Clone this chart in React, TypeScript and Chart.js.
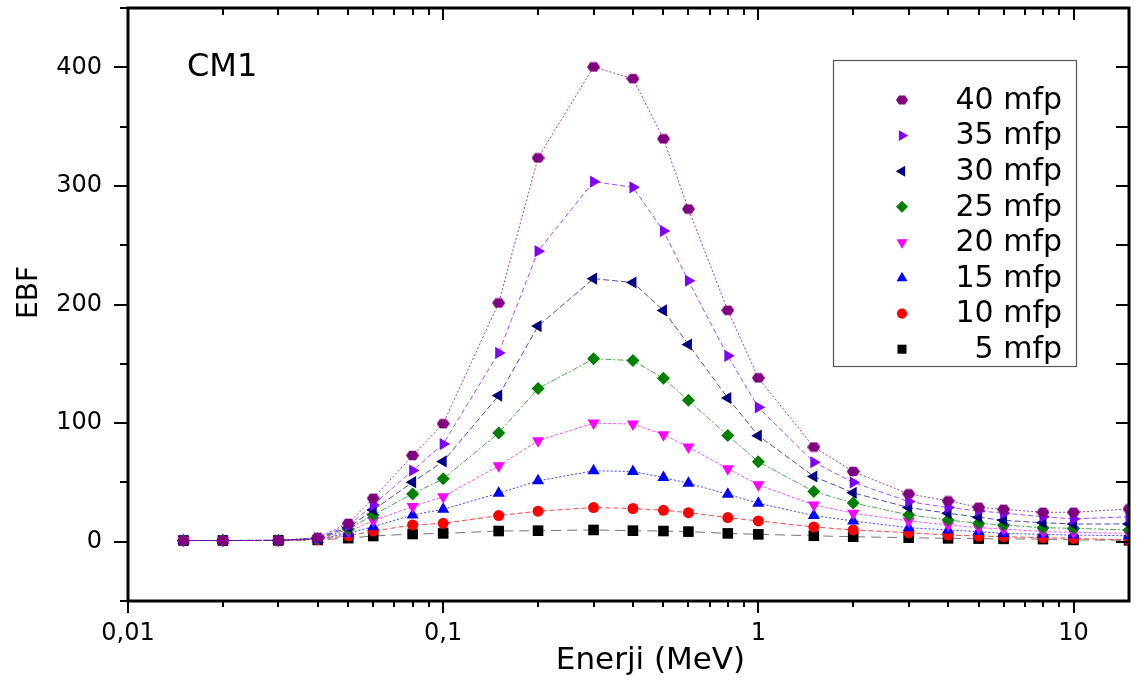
import React, { useEffect, useRef } from 'react';
import { Chart, registerables } from 'chart.js';

Chart.register(...registerables);

// ---------- data ----------
const energies = [0.015, 0.02, 0.03, 0.04, 0.05, 0.06, 0.08, 0.1, 0.15, 0.2, 0.3, 0.4, 0.5, 0.6, 0.8, 1, 1.5, 2, 3, 4, 5, 6, 8, 10, 15];

const mfp40 = [1.0, 1.0, 1.1, 3.4, 15.5, 36.6, 72.7, 99.5, 201.3, 323.6, 400.3, 390.4, 339.7, 280.5, 195.1, 138.1, 79.8, 59.2, 40.3, 34.4, 29.0, 27.3, 24.8, 24.8, 27.6];
const mfp35 = [1.0, 1.0, 1.1, 3.0, 13.5, 31.0, 60.0, 82.3, 159.2, 245.0, 303.6, 298.8, 262.0, 220.0, 156.7, 113.3, 67.0, 50.0, 33.8, 28.8, 26.0, 24.0, 21.1, 19.2, 21.0];
const mfp30 = [1.0, 1.0, 1.1, 2.8, 12.0, 26.8, 50.2, 67.7, 123.2, 181.8, 221.8, 218.5, 195.0, 166.3, 121.2, 89.4, 55.0, 41.2, 28.8, 24.0, 20.6, 18.0, 16.0, 14.9, 15.0];
const mfp25 = [1.0, 1.0, 1.1, 2.5, 10.4, 22.6, 40.3, 53.0, 91.6, 129.1, 154.2, 152.8, 137.8, 119.2, 89.6, 67.4, 42.3, 32.7, 22.6, 18.3, 15.5, 14.1, 11.8, 11.3, 9.9];
const mfp20 = [1.0, 1.0, 1.1, 2.3, 8.5, 17.8, 29.6, 38.0, 64.0, 85.2, 100.0, 99.2, 90.2, 79.8, 61.5, 48.0, 31.0, 24.0, 17.5, 14.1, 11.8, 10.7, 8.5, 7.9, 7.0];
const mfp15 = [1.0, 1.0, 1.1, 2.0, 7.0, 12.7, 22.6, 27.3, 40.9, 51.3, 59.8, 59.2, 54.1, 49.3, 40.0, 32.4, 22.0, 17.5, 11.8, 9.9, 8.5, 7.0, 6.2, 5.6, 5.0];
const mfp10 = [1.0, 1.0, 1.1, 1.8, 5.0, 9.0, 14.1, 15.5, 22.0, 25.7, 28.8, 28.0, 26.5, 24.5, 20.3, 17.5, 12.4, 9.9, 7.6, 5.6, 4.8, 4.2, 3.4, 2.8, 1.4];
const mfp5 = [1.0, 1.0, 1.1, 1.5, 3.0, 4.8, 6.5, 7.0, 9.0, 9.3, 9.9, 9.3, 9.0, 8.5, 7.0, 6.2, 5.0, 4.2, 3.4, 2.8, 2.6, 2.4, 2.2, 1.5, 1.2];

const seriesLabels = ['40 mfp', '35 mfp', '30 mfp', '25 mfp', '20 mfp', '15 mfp', '10 mfp', '5 mfp'];
const seriesValues = [mfp40, mfp35, mfp30, mfp25, mfp20, mfp15, mfp10, mfp5];

const xMin = 0.01;
const xMax = 15;
const yMin = -50;
const yMax = 450;
const yStep = 50;

const xTitle = 'Enerji (MeV)';
const yTitle = 'EBF';
const panelLabel = 'CM1';

// ---------- styles ----------
type Marker = 'hex' | 'triRight' | 'triLeft' | 'diamond' | 'triDown' | 'triUp' | 'circle' | 'square';
const styles: { color: string; line: string; marker: Marker; dash: number[] }[] = [
  { color: '#800080', line: 'rgba(128,0,128,0.75)', marker: 'hex', dash: [2, 2] },
  { color: '#8000ff', line: 'rgba(128,0,255,0.7)', marker: 'triRight', dash: [5, 3] },
  { color: '#000080', line: 'rgba(0,0,128,0.7)', marker: 'triLeft', dash: [6, 3] },
  { color: '#008000', line: 'rgba(0,128,0,0.7)', marker: 'diamond', dash: [6, 2, 2, 2] },
  { color: '#ff00ff', line: 'rgba(255,0,255,0.7)', marker: 'triDown', dash: [3, 2] },
  { color: '#0000ff', line: 'rgba(0,0,255,0.75)', marker: 'triUp', dash: [2, 2] },
  { color: '#ff0000', line: 'rgba(255,0,0,0.75)', marker: 'circle', dash: [5, 3] },
  { color: '#000000', line: 'rgba(0,0,0,0.55)', marker: 'square', dash: [10, 6] },
];

const FONT = "'DejaVu Sans', 'Liberation Sans', Arial, sans-serif";

function makeHex(w: number, h: number, color: string): HTMLCanvasElement {
  const c = document.createElement('canvas');
  c.width = w;
  c.height = h;
  const g = c.getContext('2d')!;
  g.fillStyle = color;
  g.beginPath();
  const cx = w / 2, cy = h / 2, rx = w / 2, ry = h / 2;
  for (let i = 0; i < 6; i++) {
    const a = (Math.PI / 3) * i;
    const px = cx + rx * Math.cos(a);
    const py = cy + ry * Math.sin(a);
    if (i === 0) g.moveTo(px, py);
    else g.lineTo(px, py);
  }
  g.closePath();
  g.fill();
  return c;
}

function pointProps(m: Marker, color: string) {
  switch (m) {
    case 'hex':
      return { pointStyle: makeHex(13, 11, color) as any, pointRadius: 6.5, pointRotation: 0 };
    case 'triRight':
      return { pointStyle: 'triangle', pointRadius: 7, pointRotation: 90 };
    case 'triLeft':
      return { pointStyle: 'triangle', pointRadius: 7, pointRotation: -90 };
    case 'diamond':
      return { pointStyle: 'rectRot', pointRadius: 6.5, pointRotation: 0 };
    case 'triDown':
      return { pointStyle: 'triangle', pointRadius: 7, pointRotation: 180 };
    case 'triUp':
      return { pointStyle: 'triangle', pointRadius: 7, pointRotation: 0 };
    case 'circle':
      return { pointStyle: 'circle', pointRadius: 5.5, pointRotation: 0 };
    default:
      return { pointStyle: 'rect', pointRadius: 7.5, pointRotation: 0 };
  }
}

function drawMarker(ctx: CanvasRenderingContext2D, m: Marker, x: number, y: number, s: number, color: string) {
  ctx.save();
  ctx.fillStyle = color;
  ctx.beginPath();
  const tri = (rotDeg: number, r: number) => {
    let rad = (rotDeg * Math.PI) / 180;
    for (let i = 0; i < 3; i++) {
      const px = x + Math.sin(rad) * r;
      const py = y - Math.cos(rad) * r;
      if (i === 0) ctx.moveTo(px, py);
      else ctx.lineTo(px, py);
      rad += (2 * Math.PI) / 3;
    }
    ctx.closePath();
  };
  switch (m) {
    case 'hex': {
      const rx = s * 1.0, ry = s * 0.85;
      for (let i = 0; i < 6; i++) {
        const a = (Math.PI / 3) * i;
        const px = x + rx * Math.cos(a), py = y + ry * Math.sin(a);
        if (i === 0) ctx.moveTo(px, py);
        else ctx.lineTo(px, py);
      }
      ctx.closePath();
      break;
    }
    case 'triRight': tri(90, s * 1.05); break;
    case 'triLeft': tri(-90, s * 1.05); break;
    case 'triDown': tri(180, s * 1.05); break;
    case 'triUp': tri(0, s * 1.05); break;
    case 'diamond':
      ctx.moveTo(x, y - s);
      ctx.lineTo(x + s, y);
      ctx.lineTo(x, y + s);
      ctx.lineTo(x - s, y);
      ctx.closePath();
      break;
    case 'circle':
      ctx.arc(x, y, s * 0.85, 0, Math.PI * 2);
      break;
    default:
      ctx.rect(x - s * 0.75, y - s * 0.75, s * 1.5, s * 1.5);
  }
  ctx.fill();
  ctx.restore();
}

function fmtTick(v: number): string {
  if (v >= 1) return String(Math.round(v));
  const d = Math.round(-Math.log10(v));
  return v.toFixed(d).replace('.', ',');
}

const framePlugin = {
  id: 'framePlugin',
  afterDraw(chart: any) {
    const ctx: CanvasRenderingContext2D = chart.ctx;
    const { left, right, top, bottom } = chart.chartArea;
    const xs = chart.scales.x;
    const ys = chart.scales.y;
    ctx.save();
    ctx.strokeStyle = '#000';
    // ticks on x
    ctx.lineWidth = 2;
    ctx.beginPath();
    for (let e = -2; e <= 1; e++) {
      for (let m = 1; m <= 9; m++) {
        const v = m * Math.pow(10, e);
        if (v > xMax + 1e-9) break;
        const px = Math.round(xs.getPixelForValue(v));
        const major = m === 1;
        ctx.moveTo(px, bottom);
        ctx.lineTo(px, bottom + (major ? 12 : 6));
        ctx.moveTo(px, top);
        ctx.lineTo(px, top + (major ? 12 : 7));
      }
    }
    for (let v = yMin; v <= yMax; v += yStep) {
      const py = Math.round(ys.getPixelForValue(v));
      const major = v % 100 === 0;
      ctx.moveTo(left, py);
      ctx.lineTo(left - (major ? 14 : 8), py);
      ctx.moveTo(right, py);
      ctx.lineTo(right - 13, py);
    }
    ctx.stroke();
    // frame
    ctx.lineWidth = 3;
    ctx.strokeRect(left, top, right - left, bottom - top);

    // panel label
    ctx.fillStyle = '#000';
    ctx.font = `32px ${FONT}`;
    ctx.textAlign = 'left';
    ctx.textBaseline = 'middle';
    ctx.fillText(panelLabel, left + 59, top + 60);

    // axis titles
    ctx.font = `31px ${FONT}`;
    ctx.textAlign = 'center';
    ctx.textBaseline = 'middle';
    ctx.fillText(xTitle, (left + right) / 2 + 22, chart.height - 20);
    ctx.save();
    ctx.translate(30, (top + bottom) / 2 - 12);
    ctx.rotate(-Math.PI / 2);
    ctx.font = `28px ${FONT}`;
    ctx.fillText(yTitle, 0, 0);
    ctx.restore();

    // legend
    const lx = right - 296;
    const ly = top + 52;
    const lw = 243;
    const lh = 306;
    ctx.fillStyle = '#fff';
    ctx.fillRect(lx, ly, lw, lh);
    ctx.strokeStyle = '#555';
    ctx.lineWidth = 1.2;
    ctx.strokeRect(lx + 0.5, ly + 0.5, lw, lh);
    ctx.font = `30px ${FONT}`;
    ctx.textAlign = 'right';
    ctx.textBaseline = 'middle';
    seriesLabels.forEach((lab, i) => {
      const cy = ly + 40 + i * 35.6;
      drawMarker(ctx, styles[i].marker, lx + 69, cy, 6, styles[i].color);
      ctx.fillStyle = '#000';
      ctx.fillText(lab, lx + 229, cy + 1);
    });
    ctx.restore();
  },
};

export default function App() {
  const ref = useRef<HTMLCanvasElement>(null);
  useEffect(() => {
    document.body.style.margin = '0';
    const datasets = seriesLabels.map((lab, i) => {
      const st = styles[i];
      const pp = pointProps(st.marker, st.color);
      return {
        label: lab,
        data: energies.map((e, j) => ({ x: e, y: seriesValues[i][j] })),
        borderColor: st.line,
        backgroundColor: st.color,
        borderWidth: 1,
        borderDash: st.dash,
        pointBackgroundColor: st.color,
        pointBorderColor: st.color,
        pointBorderWidth: 0,
        pointStyle: pp.pointStyle,
        pointRadius: pp.pointRadius,
        pointRotation: pp.pointRotation,
        tension: 0,
        fill: false,
      };
    });
    const chart = new Chart(ref.current!, {
      type: 'line',
      data: { datasets: datasets as any },
      options: {
        animation: false,
        responsive: true,
        maintainAspectRatio: false,
        layout: { padding: { top: 8, right: 13, left: 0, bottom: 0 } },
        plugins: { legend: { display: false }, tooltip: { enabled: false } },
        scales: {
          x: {
            type: 'logarithmic',
            min: xMin,
            max: xMax,
            grid: { display: false, drawTicks: false },
            border: { display: false },
            ticks: {
              autoSkip: false,
              maxRotation: 0,
              padding: 18,
              color: '#000',
              font: { family: FONT, size: 24 },
              callback: (v: any) => {
                const n = Number(v);
                const l = Math.log10(n);
                return Math.abs(l - Math.round(l)) < 1e-9 ? fmtTick(n) : '';
              },
            },
            afterFit: (s: any) => {
              s.height = 80;
              s.paddingLeft = 0;
              s.paddingRight = 0;
            },
          },
          y: {
            type: 'linear',
            min: yMin,
            max: yMax,
            grid: { display: false, drawTicks: false },
            border: { display: false },
            ticks: {
              stepSize: yStep,
              padding: 26,
              color: '#000',
              font: { family: FONT, size: 24 },
              callback: (v: any) => {
                const n = Number(v);
                return n >= 0 && n <= 400 && n % 100 === 0 ? String(n) : '';
              },
            },
            afterFit: (s: any) => {
              s.width = 128;
              s.paddingTop = 0;
              s.paddingBottom = 0;
            },
          },
        },
      } as any,
      plugins: [framePlugin],
    });
    return () => chart.destroy();
  }, []);
  return (
    <div style={{ position: 'fixed', left: 0, top: 0, width: 1142, height: 681, background: '#fff' }}>
      <canvas ref={ref} />
    </div>
  );
}
